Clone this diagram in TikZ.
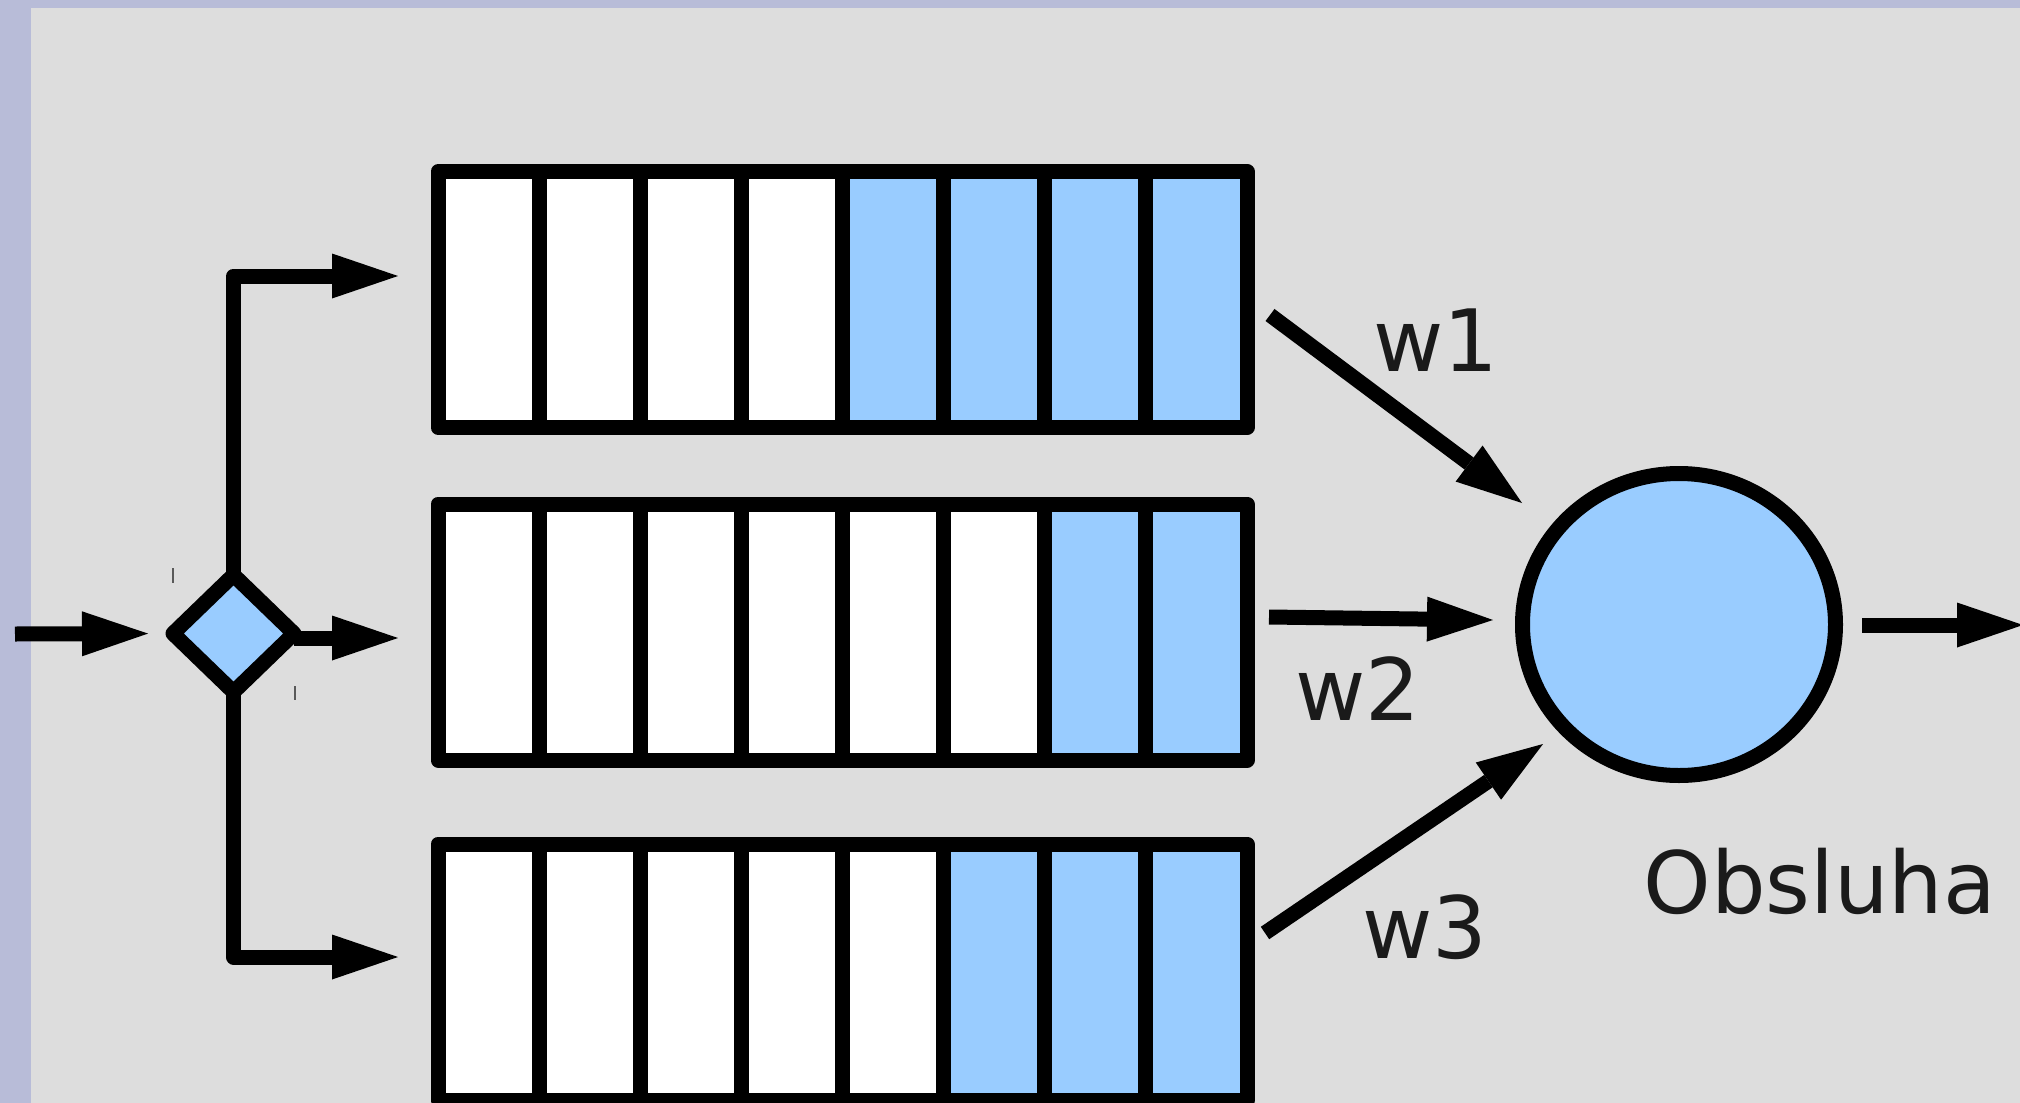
\documentclass[tikz,border=0pt]{standalone}
\usepackage{fontspec}
\setmainfont{DejaVu Sans}
\usetikzlibrary{arrows.meta,shapes.geometric}
\definecolor{bgray}{HTML}{DDDDDD}
\definecolor{frameblue}{HTML}{B8BCD8}
\definecolor{cellblue}{HTML}{99CCFF}
\definecolor{inkgray}{HTML}{1A1A1A}
\begin{document}
\begin{tikzpicture}[x=0.5pt,y=-0.5pt,
  bar/.style={line width=7.5pt},
  flow/.style={line width=7.5pt, line join=round,
    -{Triangle[length=33pt,width=22.5pt,line width=0pt]}},
  lbl/.style={font=\fontsize{43pt}{43pt}\selectfont, text=inkgray,
    anchor=base west, inner sep=0pt},
  queuebox/.style={draw, line width=7.5pt, line join=round, inner sep=0pt,
    outer sep=0pt, minimum width=404.5pt, minimum height=128pt},
  tick/.style={draw=black!65, line width=1pt}]
\useasboundingbox (0,0) rectangle (2020,1103);
% page frame and background
\fill[frameblue] (0,0) rectangle (2020,1103);
\fill[bgray] (31,8) rectangle (2020,1103);

% three queues: name / top / bottom / number of empty slots
\foreach \qn/\qt/\qb/\nw in {q1/171.5/427.5/4, q2/504/760/6, q3/844/1100/5}{
  \foreach \i in {0,...,7}{
    \ifnum\i<\nw \def\cc{white}\else\def\cc{cellblue}\fi
    \fill[\cc] ({438+\i*101.125},\qt) rectangle ({438+(\i+1)*101.125},\qb);
  }
  \foreach \i in {1,...,7}
    \draw[bar] ({438+\i*101.125},\qt) -- ({438+\i*101.125},\qb);
  \node[queuebox] (\qn) at (842.5,{(\qt+\qb)/2}) {};
}

% splitter
\node[diamond, draw, fill=cellblue, line width=7.5pt, line join=round,
      inner sep=0pt, outer sep=0pt, minimum width=60.5pt, minimum height=58.5pt]
      (split) at (233.5,633.5) {};
\draw[tick] (173,568) -- (173,583);
\draw[tick] (295,686) -- (295,700);

% server
\node[ellipse, draw, fill=cellblue, line width=7.5pt, inner sep=0pt,
      outer sep=0pt, minimum width=156.5pt, minimum height=151pt]
      (server) at (1679,624.5) {};

% connector end points
\coordinate (src) at (15,634);
\coordinate (in1) at (398,276);
\coordinate (in2) at (398,638);
\coordinate (in3) at (398,957);
\coordinate (w1s) at (1270,315);
\coordinate (w1e) at (1522,503);
\coordinate (w2s) at (1269,617);
\coordinate (w2e) at (1493,620);
\coordinate (w3s) at (1265,933);
\coordinate (w3e) at (1543,744);
\coordinate (outs) at (1862,625);
\coordinate (oute) at (2023,625);

% arrivals and routing
\draw[flow, shorten >=12.5pt] (src) -- (split.west);
\draw[flow] (split.north) |- (in1);
\draw[flow] (split.east |- in2) -- (in2);
\draw[flow] (split.south) |- (in3);

% weighted service arrows
\draw[flow] (w1s) -- (w1e);
\draw[flow] (w2s) -- (w2e);
\draw[flow] (w3s) -- (w3e);
\draw[flow] (outs) -- (oute);

% labels
\node[lbl] (lw1) at (1373,371) {w1};
\node[lbl] (lw2) at (1295,720) {w2};
\node[lbl] (lw3) at (1362,958) {w3};
\node[lbl] (lsrv) at (1643,913) {Obsluha};
\end{tikzpicture}
\end{document}
